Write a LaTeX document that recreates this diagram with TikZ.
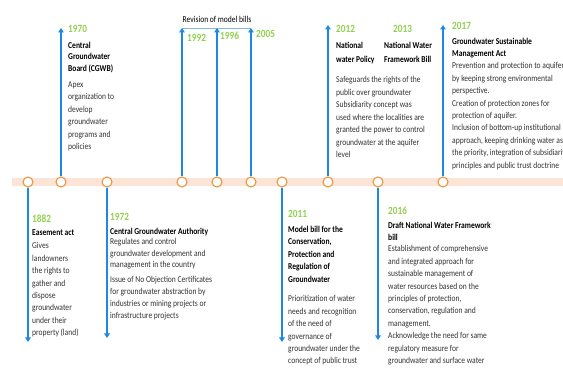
\documentclass[tikz,border=0pt]{standalone}
\usepackage{fontspec}
\usetikzlibrary{arrows.meta}
\newfontfamily\tlfont[FakeStretch=0.84]{Carlito}
\definecolor{yeargreen}{RGB}{146,208,80}
\definecolor{linkblue}{RGB}{30,136,229}
\definecolor{bandpeach}{RGB}{252,228,214}
\definecolor{ringorange}{RGB}{236,150,62}
\definecolor{bracketblue}{RGB}{130,185,235}
\tikzset{
  event/.style={circle, draw=ringorange, line width=1.1pt, fill=white,
    minimum size=10pt, inner sep=0pt},
  stem/.style={draw=linkblue, line width=2.2pt,
    -{Triangle[length=4.5pt,width=5.5pt]}},
  yearlbl/.style={anchor=base west, inner sep=0pt, text=yeargreen,
    font=\tlfont\bfseries\fontsize{11}{12}\selectfont},
  % multi-line blocks: placed by the baseline of their first line
  ttl/.style={anchor=north west, yshift=6.5pt, inner sep=0pt, align=left,
    text=black, font=\tlfont\bfseries\fontsize{9}{#1}\selectfont},
  ttl/.default=12,
  txt/.style={anchor=north west, yshift=6.5pt, inner sep=0pt, align=left,
    text=black!80, font=\tlfont\fontsize{9}{#1}\selectfont},
  txt/.default=12.4,
}
\begin{document}
\begin{tikzpicture}[x=1pt, y=-1pt]
  \useasboundingbox (0,0) rectangle (563,374);
  \fill[white] (0,0) rectangle (563,374);

  % timeline band
  \fill[bandpeach] (12,178) rectangle (563,186);

  % event markers on the band
  \node[event] (c1882) at (28,182) {};
  \node[event] (c1970) at (61,182) {};
  \node[event] (c1972) at (107,182) {};
  \node[event] (c1992) at (182,182) {};
  \node[event] (c1996) at (217,182) {};
  \node[event] (c2005) at (251,182) {};
  \node[event] (c2011) at (282,182) {};
  \node[event] (c2012) at (328,182) {};
  \node[event] (c2016) at (378,182) {};
  \node[event] (c2017) at (443,182) {};

  % arrow ends
  \coordinate (t1882) at (28,342);
  \coordinate (t1970) at (61,28);
  \coordinate (t1972) at (107,338);
  \coordinate (t1992) at (182,28);
  \coordinate (t1996) at (217,28);
  \coordinate (t2005) at (251,28);
  \coordinate (t2011) at (282,342);
  \coordinate (t2012) at (328,25);
  \coordinate (t2016) at (378,340);
  \coordinate (t2017) at (443,25);

  % bracket over the model bill revisions
  \draw[bracketblue, line width=0.8pt] (t1992) -- (t2005);
  \node[anchor=base, inner sep=0pt, font=\tlfont\fontsize{9}{10}\selectfont]
    (rev) at (217,23) {Revision of model bills};

  % stems
  \foreach \y in {1882,1970,1972,1992,1996,2005,2011,2012,2016,2017}
    \draw[stem] (c\y) -- (t\y);

  % 1970
  \node[yearlbl] (y1970) at (68,33) {1970};
  \node[ttl=11.5] (h1970) at (68,48) {Central\\Groundwater\\Board (CGWB)};
  \node[txt] (b1970) at (68,88) {Apex\\organization to\\develop\\groundwater\\programs and\\policies};

  % 1882
  \node[yearlbl] (y1882) at (32,223) {1882};
  \node[ttl] (h1882) at (32,236) {Easement act};
  \node[txt] (b1882) at (32,249) {Gives\\landowners\\the rights to\\gather and\\dispose\\groundwater\\under their\\property (land)};

  % 1972
  \node[yearlbl] (y1972) at (110,221) {1972};
  \node[ttl] (h1972) at (110,234) {Central Groundwater Authority};
  \node[txt=11.5] (b1972a) at (110,245) {Regulates and control\\groundwater development and\\management in the country};
  \node[txt=11.7] (b1972b) at (110,283) {Issue of No Objection Certificates\\for groundwater abstraction by\\industries or mining projects or\\infrastructure projects};

  % model bill revisions
  \node[yearlbl] (y1992) at (187,42) {1992};
  \node[yearlbl] (y1996) at (220,40) {1996};
  \node[yearlbl] (y2005) at (256,38) {2005};

  % 2011
  \node[yearlbl] (y2011) at (288,218) {2011};
  \node[ttl=12.5] (h2011) at (288,232) {Model bill for the\\Conservation,\\Protection and\\Regulation of\\Groundwater};
  \node[txt] (b2011) at (288,302) {Prioritization of water\\needs and recognition\\of the need of\\governance of\\groundwater under the\\concept of public trust};

  % 2012 and 2013
  \node[yearlbl] (y2012) at (336,33) {2012};
  \node[ttl=14] (h2012) at (336,48) {National\\water Policy};
  \node[yearlbl] (y2013) at (393,33) {2013};
  \node[ttl=14] (h2013) at (384,48) {National Water\\Framework Bill};
  \node[txt=12.5] (b2012) at (336,83) {Safeguards the rights of the\\public over groundwater\\Subsidiarity concept was\\used where the localities are\\granted the power to control\\groundwater at the aquifer\\level};

  % 2016
  \node[yearlbl] (y2016) at (388,215) {2016};
  \node[ttl] (h2016) at (388,228) {Draft National Water Framework\\bill};
  \node[txt] (b2016) at (388,252) {Establishment of comprehensive\\and integrated approach for\\sustainable management of\\water resources based on the\\principles of protection,\\conservation, regulation and\\management.\\Acknowledge the need for same\\regulatory measure for\\groundwater and surface water};

  % 2017
  \node[yearlbl] (y2017) at (452,30) {2017};
  \node[ttl] (h2017) at (452,44) {Groundwater Sustainable\\Management Act};
  \node[txt] (b2017) at (452,69) {Prevention and protection to aquifer\\by keeping strong environmental\\perspective.\\Creation of protection zones for\\protection of aquifer.\\Inclusion of bottom-up institutional\\approach, keeping drinking water as\\the priority, integration of subsidiarity\\principles and public trust doctrine};
\end{tikzpicture}
\end{document}
